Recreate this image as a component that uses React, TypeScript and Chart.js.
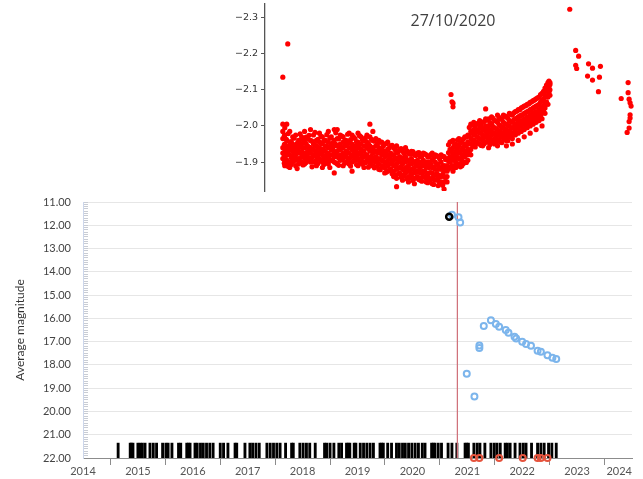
import React, { useEffect, useRef } from 'react';
import { Chart, registerables } from 'chart.js';

Chart.register(...registerables);

// ---------- main chart data ----------
const yearMin = 2014;
const yearMax = 2024;
const magMin = 11;
const magMax = 22;
const alertYear = 2020.82;
const obsTop = 21.36;

const obsYears = [
  2014.64, 2014.86, 2014.88, 2014.91, 2015.0, 2015.04, 2015.08, 2015.13, 2015.22, 2015.28, 2015.34,
  2015.45, 2015.51, 2015.55, 2015.62, 2015.74, 2015.78, 2015.89, 2015.92, 2015.95, 2016.04, 2016.08,
  2016.14, 2016.19, 2016.25, 2016.31, 2016.37, 2016.5, 2016.56, 2016.64, 2016.77, 2016.8, 2016.95,
  2017.04, 2017.09, 2017.15, 2017.21, 2017.35, 2017.41, 2017.47, 2017.53, 2017.59, 2017.69, 2017.8,
  2017.83, 2017.95, 2018.01, 2018.07, 2018.13, 2018.23, 2018.4, 2018.44, 2018.5, 2018.57, 2018.66,
  2018.71, 2018.8, 2018.83, 2018.86, 2018.94, 2018.97, 2019.05, 2019.11, 2019.17, 2019.23, 2019.29,
  2019.41, 2019.44, 2019.47, 2019.55, 2019.62, 2019.71, 2019.76, 2019.82, 2019.87, 2019.93, 2019.99,
  2020.05, 2020.11, 2020.18, 2020.23, 2020.35, 2020.38, 2020.41, 2020.47, 2020.53, 2020.65, 2020.72,
  2020.81, 2020.96, 2020.99, 2021.02, 2021.12, 2021.18, 2021.23, 2021.32, 2021.43, 2021.49, 2021.54,
  2021.6, 2021.69, 2021.73, 2021.78, 2021.87, 2021.96, 2022.02, 2022.07, 2022.17, 2022.28, 2022.34,
  2022.4, 2022.48, 2022.54, 2022.62,
];

const blueYears = [
  2020.72, 2020.84, 2020.87, 2020.99, 2021.13, 2021.22, 2021.22, 2021.3, 2021.43, 2021.52, 2021.58,
  2021.7, 2021.75, 2021.86, 2021.89, 2022.0, 2022.07, 2022.16, 2022.28, 2022.34, 2022.46, 2022.55, 2022.62,
];
const blueMags = [
  11.55, 11.66, 11.88, 18.38, 19.36, 17.17, 17.27, 16.33, 16.08, 16.24, 16.36,
  16.5, 16.62, 16.79, 16.86, 17.0, 17.1, 17.18, 17.39, 17.43, 17.58, 17.69, 17.75,
];

const blackYears = [2020.67];
const blackMags = [11.63];

const redYears = [2021.12, 2021.22, 2021.58, 2022.01, 2022.28, 2022.34, 2022.46];
const redMags = [22, 22, 22, 22, 22, 22, 22];

// ---------- inset data ----------
const insetTicks = [-2.3, -2.2, -2.1, -2.0, -1.9];
const insetColX = [
  18, 20, 22, 25, 28, 31, 34, 37, 40, 43, 46, 49, 52, 55, 58, 61, 64, 67, 70, 73, 76, 79, 82, 85, 88, 91,
  94, 97, 100, 103, 106, 109, 112, 115, 118, 121, 124, 127, 130, 133, 136, 139, 142, 145, 148, 151, 154,
  157, 160, 163, 166, 169, 172, 175, 178, 181, 184, 187, 190, 193, 196, 199, 202, 205, 208, 211, 214,
  217, 220, 223, 226, 229, 232, 235, 238, 241, 244, 247, 250, 253, 256, 259, 262, 265, 268, 271, 274,
  277, 280, 283, 286, 288,
];
const insetColY = [
  [-2.005, -1.985, -1.965, -1.94, -1.925, -1.91],
  [-1.995, -1.975, -1.95, -1.93, -1.915, -1.9, -1.89],
  [-2.005, -1.96, -1.94, -1.92, -1.905, -1.895],
  [-1.985, -1.955, -1.935, -1.92, -1.9, -1.885],
  [-1.97, -1.95, -1.93, -1.915, -1.9],
  [-1.975, -1.945, -1.935, -1.92, -1.905, -1.89],
  [-1.96, -1.94, -1.925, -1.91, -1.895],
  [-1.97, -1.95, -1.93, -1.915, -1.9],
  [-1.985, -1.955, -1.94, -1.925, -1.91, -1.895],
  [-1.965, -1.945, -1.93, -1.915, -1.905],
  [-1.99, -1.96, -1.94, -1.925, -1.91, -1.9],
  [-1.975, -1.95, -1.935, -1.92, -1.9],
  [-1.96, -1.945, -1.93, -1.915, -1.905, -1.89],
  [-1.98, -1.955, -1.94, -1.925, -1.91],
  [-1.97, -1.95, -1.935, -1.92, -1.9, -1.885],
  [-1.96, -1.945, -1.93, -1.915, -1.905],
  [-1.985, -1.955, -1.94, -1.925, -1.91, -1.895],
  [-1.97, -1.95, -1.935, -1.92, -1.905],
  [-1.99, -1.96, -1.945, -1.93, -1.915, -1.9, -1.87],
  [-1.99, -1.965, -1.945, -1.93, -1.915, -1.895],
  [-1.975, -1.95, -1.935, -1.92, -1.905],
  [-1.97, -1.955, -1.94, -1.925, -1.91, -1.89],
  [-1.96, -1.945, -1.93, -1.915, -1.9],
  [-1.98, -1.955, -1.94, -1.925, -1.91, -1.895],
  [-1.975, -1.95, -1.935, -1.92, -1.9, -1.875],
  [-1.965, -1.945, -1.93, -1.915, -1.905],
  [-1.98, -1.955, -1.94, -1.925, -1.91, -1.89],
  [-1.97, -1.95, -1.935, -1.92, -1.9],
  [-1.96, -1.945, -1.93, -1.915, -1.9, -1.885],
  [-1.975, -1.955, -1.94, -1.92, -1.905],
  [-2.005, -1.97, -1.945, -1.93, -1.91, -1.895],
  [-1.985, -1.96, -1.94, -1.925, -1.905, -1.89],
  [-1.965, -1.945, -1.93, -1.915, -1.9],
  [-1.96, -1.94, -1.925, -1.91, -1.895, -1.88],
  [-1.955, -1.935, -1.92, -1.905, -1.89],
  [-1.95, -1.93, -1.915, -1.9, -1.885, -1.87],
  [-1.955, -1.935, -1.92, -1.905, -1.89, -1.875],
  [-1.945, -1.925, -1.91, -1.895, -1.88],
  [-1.94, -1.92, -1.905, -1.89, -1.875, -1.86],
  [-1.945, -1.925, -1.91, -1.895, -1.88, -1.855, -1.832],
  [-1.935, -1.915, -1.9, -1.885, -1.87],
  [-1.93, -1.91, -1.895, -1.88, -1.865, -1.85],
  [-1.94, -1.915, -1.9, -1.885, -1.87],
  [-1.925, -1.905, -1.89, -1.875, -1.86, -1.845],
  [-1.93, -1.91, -1.895, -1.88, -1.865],
  [-1.92, -1.9, -1.885, -1.87, -1.855, -1.84],
  [-1.925, -1.905, -1.89, -1.875, -1.86],
  [-1.915, -1.9, -1.885, -1.87, -1.855, -1.85],
  [-1.925, -1.905, -1.89, -1.875, -1.86],
  [-1.92, -1.9, -1.885, -1.87, -1.855, -1.845],
  [-1.915, -1.9, -1.885, -1.87, -1.855],
  [-1.925, -1.905, -1.885, -1.87, -1.855, -1.84],
  [-1.92, -1.9, -1.88, -1.865, -1.85],
  [-1.915, -1.895, -1.88, -1.865, -1.85, -1.835],
  [-1.92, -1.9, -1.88, -1.86, -1.845],
  [-1.915, -1.89, -1.875, -1.86, -1.845, -1.825],
  [-1.91, -1.89, -1.875, -1.86, -1.845],
  [-1.955, -1.935, -1.915, -1.9, -1.885],
  [-1.96, -1.94, -1.92, -1.905, -1.89, -1.875],
  [-1.95, -1.93, -1.915, -1.9, -1.885],
  [-1.965, -1.945, -1.925, -1.91, -1.895],
  [-1.955, -1.935, -1.92, -1.905, -1.89],
  [-1.97, -1.95, -1.93, -1.915, -1.9],
  [-1.975, -1.955, -1.935, -1.92, -1.905],
  [-2.005, -1.985, -1.965, -1.95, -1.935, -1.92],
  [-2.01, -1.99, -1.975, -1.96, -1.945],
  [-2.005, -1.985, -1.97, -1.955],
  [-2.015, -1.995, -1.98, -1.965, -1.95],
  [-2.01, -1.99, -1.975, -1.96, -1.945],
  [-2.02, -2.0, -1.985, -1.97, -1.955, -2.047],
  [-2.02, -2.0, -1.985, -1.97, -1.955, -1.94],
  [-2.025, -2.005, -1.99, -1.975, -1.96],
  [-2.015, -1.995, -1.98, -1.965, -1.95],
  [-2.03, -2.01, -1.99, -1.975, -1.96, -1.945],
  [-2.02, -2.0, -1.985, -1.97, -1.955],
  [-2.03, -2.01, -1.995, -1.98, -1.965],
  [-2.025, -2.005, -1.99, -1.975, -1.96, -1.945],
  [-2.035, -2.015, -2.0, -1.985, -1.97],
  [-2.03, -2.01, -1.995, -1.98, -1.965, -1.95],
  [-2.04, -2.02, -2.005, -1.99, -1.975],
  [-2.045, -2.025, -2.01, -1.995, -1.98, -1.96],
  [-2.05, -2.03, -2.015, -2.0, -1.985],
  [-2.055, -2.035, -2.02, -2.005, -1.99, -1.97],
  [-2.06, -2.04, -2.025, -2.01, -1.995],
  [-2.065, -2.045, -2.03, -2.015, -2.0, -1.98],
  [-2.07, -2.05, -2.035, -2.02, -2.005],
  [-2.075, -2.055, -2.04, -2.025, -2.01, -1.99],
  [-2.08, -2.06, -2.045, -2.03, -2.015],
  [-2.09, -2.07, -2.05, -2.035, -2.02, -2.0],
  [-2.105, -2.085, -2.065, -2.05, -2.035],
  [-2.12, -2.11, -2.095, -2.08, -2.06],
  [-2.12, -2.115, -2.1, -2.085],
];
const insetColX2 = [
  19.5, 21.5, 23.5, 26.5, 29.5, 32.5, 35.5, 38.5, 41.5, 44.5, 47.5, 50.5, 53.5, 56.5, 59.5, 62.5, 65.5,
  68.5, 71.5, 74.5, 77.5, 80.5, 83.5, 86.5, 89.5, 92.5, 95.5, 98.5, 101.5, 104.5, 107.5, 110.5, 113.5,
  116.5, 119.5, 122.5, 125.5, 128.5, 131.5, 134.5, 137.5, 140.5, 143.5, 146.5, 149.5, 152.5, 155.5,
  158.5, 161.5, 164.5, 167.5, 170.5, 173.5, 176.5, 179.5, 182.5, 185.5, 188.5, 191.5, 194.5, 197.5,
  200.5, 203.5, 206.5, 209.5, 212.5, 215.5, 218.5, 221.5, 224.5, 227.5, 230.5, 233.5, 236.5, 239.5,
  242.5, 245.5, 248.5, 251.5, 254.5, 257.5, 260.5, 263.5, 266.5, 269.5, 272.5, 275.5, 278.5, 281.5,
  284.5, 287,
];
const insetColY2 = [
  [-1.972, -1.948, -1.917, -1.897],
  [-1.963, -1.941, -1.922, -1.907],
  [-1.979, -1.944, -1.928, -1.888],
  [-1.957, -1.943, -1.912, -1.893],
  [-1.966, -1.938, -1.923, -1.908],
  [-1.952, -1.931, -1.909, -1.882],
  [-1.978, -1.947, -1.927, -1.903],
  [-1.961, -1.939, -1.921, -1.892],
  [-1.969, -1.952, -1.918, -1.899],
  [-1.974, -1.941, -1.926, -1.908],
  [-1.958, -1.936, -1.913, -1.887],
  [-1.982, -1.947, -1.922, -1.902],
  [-1.963, -1.938, -1.917, -1.896],
  [-1.971, -1.952, -1.928, -1.906],
  [-1.959, -1.933, -1.911, -1.893],
  [-1.976, -1.944, -1.923, -1.901],
  [-1.966, -1.941, -1.918, -1.885],
  [-1.953, -1.937, -1.921, -1.904],
  [-1.981, -1.949, -1.926, -1.898],
  [-1.964, -1.942, -1.912, -1.891],
  [-1.972, -1.938, -1.919, -1.907],
  [-1.958, -1.946, -1.925, -1.897],
  [-1.977, -1.951, -1.927, -1.903],
  [-1.962, -1.939, -1.914, -1.889],
  [-1.969, -1.943, -1.922, -1.905],
  [-1.956, -1.936, -1.917, -1.893],
  [-1.973, -1.947, -1.924, -1.902],
  [-1.961, -1.932, -1.913, -1.894],
  [-1.967, -1.944, -1.921, -1.898],
  [-1.952, -1.937, -1.912, -1.886],
  [-1.963, -1.938, -1.916, -1.899],
  [-1.958, -1.932, -1.911, -1.884],
  [-1.949, -1.927, -1.906, -1.889],
  [-1.955, -1.931, -1.908, -1.879],
  [-1.944, -1.922, -1.903, -1.886],
  [-1.951, -1.926, -1.897, -1.872],
  [-1.939, -1.917, -1.894, -1.878],
  [-1.946, -1.921, -1.899, -1.868],
  [-1.934, -1.911, -1.889, -1.863],
  [-1.928, -1.906, -1.883, -1.867],
  [-1.937, -1.912, -1.887, -1.858],
  [-1.924, -1.902, -1.878, -1.861],
  [-1.931, -1.907, -1.882, -1.853],
  [-1.922, -1.896, -1.874, -1.857],
  [-1.929, -1.903, -1.881, -1.849],
  [-1.918, -1.893, -1.872, -1.856],
  [-1.926, -1.899, -1.877, -1.852],
  [-1.916, -1.894, -1.869, -1.847],
  [-1.923, -1.897, -1.873, -1.858],
  [-1.914, -1.889, -1.866, -1.843],
  [-1.921, -1.894, -1.871, -1.851],
  [-1.912, -1.887, -1.863, -1.838],
  [-1.918, -1.892, -1.868, -1.852],
  [-1.909, -1.884, -1.861, -1.842],
  [-1.916, -1.889, -1.866, -1.836],
  [-1.907, -1.882, -1.858, -1.846],
  [-1.948, -1.926, -1.903, -1.881],
  [-1.957, -1.932, -1.911, -1.889],
  [-1.946, -1.923, -1.906, -1.884],
  [-1.961, -1.937, -1.913, -1.893],
  [-1.952, -1.928, -1.908, -1.887],
  [-1.964, -1.941, -1.918, -1.896],
  [-1.969, -1.945, -1.923, -1.899],
  [-1.996, -1.973, -1.951, -1.928],
  [-2.003, -1.982, -1.962, -1.948],
  [-1.997, -1.978, -1.957, -1.942],
  [-2.008, -1.988, -1.968, -1.952],
  [-2.002, -1.981, -1.963, -1.946],
  [-2.012, -1.993, -1.972, -1.951],
  [-2.016, -1.994, -1.977, -1.958],
  [-2.009, -1.987, -1.968, -1.949],
  [-2.021, -1.998, -1.979, -1.957],
  [-2.014, -1.992, -1.971, -1.953],
  [-2.024, -2.003, -1.982, -1.961],
  [-2.018, -1.996, -1.976, -1.954],
  [-2.027, -2.006, -1.987, -1.966],
  [-2.021, -2.001, -1.981, -1.959],
  [-2.032, -2.012, -1.992, -1.972],
  [-2.036, -2.017, -1.997, -1.978],
  [-2.041, -2.021, -2.002, -1.981],
  [-2.045, -2.027, -2.008, -1.986],
  [-2.052, -2.031, -2.012, -1.992],
  [-2.056, -2.037, -2.018, -1.997],
  [-2.061, -2.041, -2.022, -2.004],
  [-2.067, -2.046, -2.027, -2.008],
  [-2.072, -2.052, -2.033, -2.013],
  [-2.078, -2.057, -2.038, -2.019],
  [-2.087, -2.066, -2.046, -2.026],
  [-2.096, -2.076, -2.056, -2.041],
  [-2.113, -2.098, -2.082, -2.067],
  [-2.124, -2.108, -2.093],
];
const insetExtraX = [
  18, 23, 188, 189, 190, 190, 308, 314, 317, 314, 315, 327, 331, 339, 326, 331, 338, 337,
  360, 367, 367, 368, 369, 370, 369, 369, 368, 368, 366,
];
const insetExtraY = [
  -2.135, -2.227, -2.087, -2.067, -2.063, -2.053, -2.323, -2.209, -2.193, -2.168, -2.159, -2.172,
  -2.16, -2.165, -2.138, -2.127, -2.135, -2.095, -2.076, -2.12, -2.092, -2.074, -2.064, -2.055,
  -2.031, -2.022, -2.012, -1.994, -1.982,
];

const isMajor = (v: number) => Math.abs(v - Math.round(v)) < 1e-6;

export default function App() {
  const mainRef = useRef<HTMLCanvasElement>(null);
  const insetRef = useRef<HTMLCanvasElement>(null);

  useEffect(() => {
    const insetPoints: { x: number; y: number }[] = [];
    insetColX.forEach((x, i) => insetColY[i].forEach((y) => insetPoints.push({ x, y })));
    insetColX2.forEach((x, i) => insetColY2[i].forEach((y) => insetPoints.push({ x, y })));
    insetExtraX.forEach((x, i) => insetPoints.push({ x, y: insetExtraY[i] }));

    const main = new Chart(mainRef.current as HTMLCanvasElement, {
      type: 'scatter',
      data: {
        datasets: [
          {
            type: 'scatter',
            data: redYears.map((x, i) => ({ x, y: redMags[i] })),
            pointRadius: 3,
            borderWidth: 2,
            borderColor: '#e5533d',
            backgroundColor: 'rgba(255,255,255,0)',
            clip: false,
            order: 1,
          } as any,
          {
            type: 'scatter',
            data: blackYears.map((x, i) => ({ x, y: blackMags[i] })),
            pointRadius: 3,
            borderWidth: 2.5,
            borderColor: '#000000',
            backgroundColor: 'rgba(255,255,255,0)',
            clip: false,
            order: 2,
          } as any,
          {
            type: 'scatter',
            data: blueYears.map((x, i) => ({ x, y: blueMags[i] })),
            pointRadius: 3,
            borderWidth: 2,
            borderColor: '#7cb5ec',
            backgroundColor: 'rgba(255,255,255,0)',
            clip: false,
            order: 3,
          } as any,
          {
            type: 'line',
            data: [
              { x: alertYear, y: magMin },
              { x: alertYear, y: magMax },
            ],
            borderColor: '#d0737c',
            borderWidth: 1,
            pointRadius: 0,
            showLine: true,
            order: 4,
          } as any,
          {
            type: 'bar',
            data: obsYears.map((x) => ({ x, y: [obsTop, magMax] })),
            backgroundColor: '#000000',
            barThickness: 2.2,
            order: 5,
          } as any,
        ],
      },
      options: {
        responsive: false,
        animation: false,
        events: [],
        layout: { padding: { top: 12, right: 11, left: 0, bottom: 0 } },
        plugins: { legend: { display: false }, tooltip: { enabled: false } },
        scales: {
          x: {
            type: 'linear',
            min: yearMin,
            max: yearMax,
            offset: false,
            grid: { drawOnChartArea: false, drawTicks: true, tickLength: 7, tickColor: '#8c8c8c' },
            border: { color: '#8c8c8c' },
            ticks: {
              stepSize: 1,
              padding: 0,
              autoSkip: false,
              maxRotation: 0,
              color: '#555555',
              font: { family: 'Lato', size: 11 },
              callback: (v: any) => (v === yearMax ? String(v) + '\u2007\u2007\u2007\u2007' : String(v)),
            },
            afterFit: (s: any) => {
              s.height = 21;
              s.paddingLeft = 0;
              s.paddingRight = 0;
            },
          },
          y: {
            type: 'linear',
            min: magMin,
            max: magMax,
            reverse: true,
            afterBuildTicks: (s: any) => {
              const t: { value: number }[] = [];
              for (let i = 0; i <= (magMax - magMin) * 10; i++) t.push({ value: +(magMin + i / 10).toFixed(1) });
              s.ticks = t;
            },
            grid: {
              drawTicks: true,
              tickLength: -5,
              color: (ctx: any) => (ctx.tick && isMajor(ctx.tick.value) ? '#e6e6e6' : 'rgba(0,0,0,0)'),
              tickColor: '#c8ccd4',
            },
            border: { color: '#ccd6eb' },
            ticks: {
              autoSkip: false,
              padding: 17,
              color: '#444444',
              font: { family: 'Lato', size: 11 },
              callback: (v: any) => (isMajor(v) ? Number(v).toFixed(2) : ''),
            },
            title: {
              display: true,
              text: 'Average magnitude',
              color: '#333333',
              font: { family: 'Lato', size: 12 },
              padding: { top: 13, bottom: 0 },
            },
            afterFit: (s: any) => {
              s.width = 83;
              s.paddingTop = 0;
              s.paddingBottom = 0;
            },
          },
        },
      } as any,
    });

    const inset = new Chart(insetRef.current as HTMLCanvasElement, {
      type: 'scatter',
      data: {
        datasets: [
          {
            data: insetPoints,
            pointRadius: 2.6,
            borderWidth: 0,
            backgroundColor: '#ff0000',
          },
        ],
      },
      options: {
        responsive: false,
        animation: false,
        events: [],
        layout: { padding: { top: 3, bottom: 3, left: 0, right: 0 } },
        plugins: { legend: { display: false }, tooltip: { enabled: false } },
        scales: {
          x: { type: 'linear', display: false, min: 0, max: 378 },
          y: {
            type: 'linear',
            reverse: true,
            min: -2.3375,
            max: -1.82,
            afterBuildTicks: (s: any) => {
              s.ticks = insetTicks.map((v) => ({ value: v }));
            },
            grid: { drawOnChartArea: false, drawTicks: true, tickLength: 4, tickColor: '#555555' },
            border: { color: '#555555', width: 1.3 },
            ticks: {
              padding: 3,
              color: '#333333',
              font: { family: 'DejaVu Sans', size: 9.5 },
              callback: (v: any) => Number(v).toFixed(1).replace('-', '\u2212'),
            },
            afterFit: (s: any) => {
              s.width = 65;
              s.paddingTop = 0;
              s.paddingBottom = 0;
            },
          },
        },
      } as any,
    });

    return () => {
      main.destroy();
      inset.destroy();
    };
  }, []);

  return (
    <div
      style={{
        position: 'absolute',
        left: 0,
        top: 0,
        width: 643,
        height: 479,
        background: '#ffffff',
        overflow: 'hidden',
      }}
    >
      <canvas
        ref={insetRef}
        width={443}
        height={195}
        style={{ position: 'absolute', left: 200, top: 0, width: 443, height: 195, display: 'block' }}
      />
      <canvas
        ref={mainRef}
        width={643}
        height={289}
        style={{ position: 'absolute', left: 0, top: 190, width: 643, height: 289, display: 'block' }}
      />
      <div
        style={{
          position: 'absolute',
          left: 353,
          top: 9,
          width: 200,
          textAlign: 'center',
          fontFamily: '"Open Sans", sans-serif',
          fontSize: 16,
          lineHeight: '22px',
          color: '#404040',
        }}
      >
        27/10/2020
      </div>
    </div>
  );
}
